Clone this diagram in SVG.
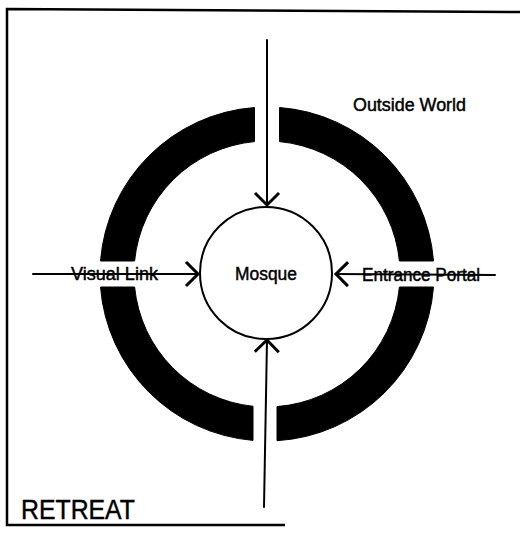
<svg xmlns="http://www.w3.org/2000/svg" width="520" height="533" viewBox="0 0 520 533">
  <style>
    .lbl { font-family: "Liberation Sans", Arial, sans-serif; fill: #000; stroke: #000; stroke-width: 0.45; }
    .wall { fill: #000; stroke: #000; stroke-width: 1; stroke-linejoin: round; }
    .conn { stroke: #000; stroke-width: 2; fill: none; stroke-linecap: round; }
    .frame { stroke: #000; stroke-width: 2.5; fill: none; }
  </style>
  <defs>
    <marker id="arrow" markerUnits="userSpaceOnUse" markerWidth="32" markerHeight="32" viewBox="-16 -16 32 32" refX="0" refY="0" orient="auto">
      <path d="M-12,-12 L0,0 L-12,12" fill="none" stroke="#000" stroke-width="3" stroke-linecap="butt" stroke-linejoin="miter"/>
    </marker>
  </defs>
  <rect width="520" height="533" fill="#fff"/>

  <g id="frame">
    <path class="frame" d="M520,12 L7,9 L7,525 L285,525"/>
  </g>

  <g id="ring">
    <path class="wall" d="M100.5,261 A167,167 0 0 1 254.5,107.5 L254.5,141.6 A133,133 0 0 0 134.6,261 Z"/>
    <path class="wall" d="M279.5,107.5 A167,167 0 0 1 433.5,261 L399.4,261 A133,133 0 0 0 279.5,141.6 Z"/>
    <path class="wall" d="M433.5,287 A167,167 0 0 1 277,440.7 L277,406.6 A133,133 0 0 0 399.4,287 Z"/>
    <path class="wall" d="M253,440.4 A167,167 0 0 1 100.5,287 L134.6,287 A133,133 0 0 0 253,406.3 Z"/>
  </g>

  <g id="connectors">
    <path class="conn" d="M267,40 L267,205" marker-end="url(#arrow)"/>
    <path class="conn" d="M264,507 L267,340" marker-end="url(#arrow)"/>
    <path class="conn" d="M33,274 L198,274" marker-end="url(#arrow)"/>
    <path class="conn" d="M495,275 L336,274" marker-end="url(#arrow)"/>
  </g>

  <g id="mosque">
    <circle cx="266" cy="273" r="66" fill="none" stroke="#000" stroke-width="2"/>
    <text class="lbl" x="266" y="280" font-size="18" text-anchor="middle" textLength="62" lengthAdjust="spacingAndGlyphs">Mosque</text>
  </g>

  <g id="outside-world">
    <text class="lbl" x="353" y="111" font-size="18" textLength="113" lengthAdjust="spacingAndGlyphs">Outside World</text>
  </g>

  <g id="visual-link">
    <text class="lbl" x="71" y="280" font-size="18" textLength="87" lengthAdjust="spacingAndGlyphs">Visual Link</text>
  </g>

  <g id="entrance-portal">
    <text class="lbl" x="362" y="281" font-size="18" textLength="118" lengthAdjust="spacingAndGlyphs">Entrance Portal</text>
  </g>

  <g id="retreat">
    <text class="lbl" x="21" y="519" font-size="27" textLength="114" lengthAdjust="spacingAndGlyphs">RETREAT</text>
  </g>
</svg>
